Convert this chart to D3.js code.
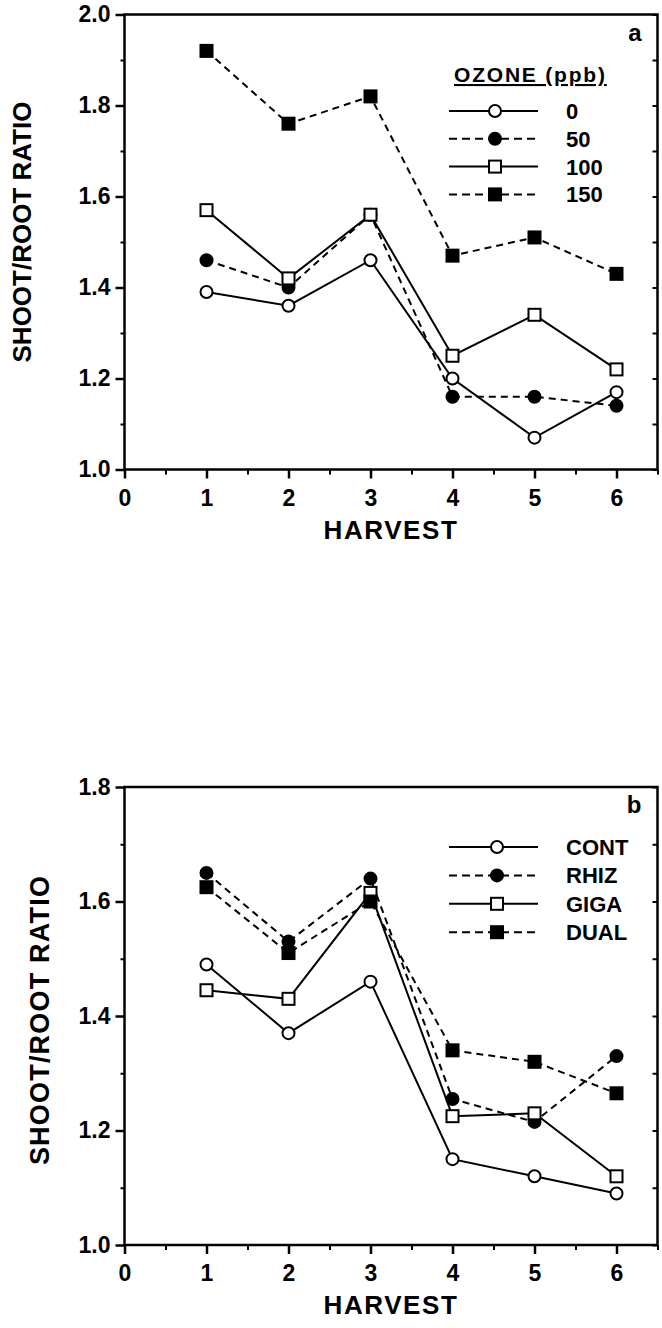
<!DOCTYPE html>
<html>
<head>
<meta charset="utf-8">
<script src="https://cdn.jsdelivr.net/npm/d3@7"></script>
<style>
  html, body { margin: 0; padding: 0; background: #fff; }
  svg { display: block; }
  text { font-family: "Liberation Sans", Arial, Helvetica, sans-serif; font-weight: bold; fill: #000; }
</style>
</head>
<body>
<div id="chart"></div>
<script>
// ============================================================
// Data
// ============================================================
const harvests = [1, 2, 3, 4, 5, 6];
const xTicks = [0, 1, 2, 3, 4, 5, 6];

// panel a : ozone (ppb)
const ozoneLabels = ['0', '50', '100', '150'];
const ozone0   = [1.39, 1.36, 1.46, 1.20, 1.07, 1.17];
const ozone50  = [1.46, 1.40, 1.56, 1.16, 1.16, 1.14];
const ozone100 = [1.57, 1.42, 1.56, 1.25, 1.34, 1.22];
const ozone150 = [1.92, 1.76, 1.82, 1.47, 1.51, 1.43];
const yTicksA = [1.0, 1.2, 1.4, 1.6, 1.8, 2.0];

// panel b : inoculation
const inocLabels = ['CONT', 'RHIZ', 'GIGA', 'DUAL'];
const cont = [1.49, 1.37, 1.46, 1.15, 1.12, 1.09];
const rhiz = [1.65, 1.53, 1.64, 1.255, 1.215, 1.33];
const giga = [1.445, 1.43, 1.615, 1.225, 1.23, 1.12];
const dual = [1.625, 1.51, 1.60, 1.34, 1.32, 1.265];
const yTicksB = [1.0, 1.2, 1.4, 1.6, 1.8];

// marker / line style per series position
const STYLES = [
    { shape: 'circle', fill: '#fff', dash: null },
    { shape: 'circle', fill: '#000', dash: '7,5' },
    { shape: 'square', fill: '#fff', dash: null },
    { shape: 'square', fill: '#000', dash: '7,5' }
];

const W = 662, H = 1328;
const svg = d3.select('#chart').append('svg')
    .attr('width', W)
    .attr('height', H);

// ============================================================
// Helpers
// ============================================================
function drawMarker(g, shape, fill, cx, cy) {
    if (shape === 'circle') {
        g.append('circle')
            .attr('cx', cx).attr('cy', cy).attr('r', 6)
            .attr('fill', fill).attr('stroke', '#000').attr('stroke-width', 2);
    } else {
        g.append('rect')
            .attr('x', cx - 6).attr('y', cy - 6)
            .attr('width', 12).attr('height', 12)
            .attr('fill', fill).attr('stroke', '#000').attr('stroke-width', 2);
    }
}

function minorSteps(lo, hi, step) {
    const out = [];
    for (let i = 0; lo + i * step <= hi + 1e-9; i++) out.push(+(lo + i * step).toFixed(2));
    return out;
}

function drawPanel(p) {
    const x = d3.scaleLinear().domain([0, 6.5]).range([p.left, p.right]);
    const y = d3.scaleLinear().domain(p.yDomain).range([p.bottom, p.top]);
    const g = svg.append('g');

    // minor x ticks (halves)
    g.append('g')
        .attr('transform', `translate(0,${p.bottom})`)
        .call(d3.axisBottom(x).tickValues(minorSteps(0.5, 6.5, 1)).tickSize(5).tickFormat('').tickSizeOuter(0))
        .call(s => s.select('.domain').remove())
        .call(s => s.selectAll('line').attr('stroke-width', 2));

    // major x ticks
    const xa = g.append('g')
        .attr('transform', `translate(0,${p.bottom})`)
        .call(d3.axisBottom(x).tickValues(xTicks).tickSize(9).tickPadding(11).tickFormat(d3.format('d')).tickSizeOuter(0));
    xa.select('.domain').remove();
    xa.selectAll('line').attr('stroke-width', 2.5);
    xa.selectAll('text').attr('font-size', 23).attr('font-family', null);

    // minor y ticks
    g.append('g')
        .attr('transform', `translate(${p.left},0)`)
        .call(d3.axisLeft(y).tickValues(minorSteps(p.yDomain[0] + 0.1, p.yDomain[1], 0.2)).tickSize(4).tickFormat('').tickSizeOuter(0))
        .call(s => s.select('.domain').remove())
        .call(s => s.selectAll('line').attr('stroke-width', 2));

    // major y ticks
    const ya = g.append('g')
        .attr('transform', `translate(${p.left},0)`)
        .call(d3.axisLeft(y).tickValues(p.yTicks).tickSize(9).tickPadding(5).tickFormat(d3.format('.1f')).tickSizeOuter(0));
    ya.select('.domain').remove();
    ya.selectAll('line').attr('stroke-width', 2.5);
    ya.selectAll('text').attr('font-size', 23).attr('font-family', null);

    // right side inner ticks
    g.append('g')
        .attr('transform', `translate(${p.right},0)`)
        .call(d3.axisRight(y).tickValues(minorSteps(p.yDomain[0], p.yDomain[1], 0.1)).tickSize(-5).tickFormat('').tickSizeOuter(0))
        .call(s => s.select('.domain').remove())
        .call(s => s.selectAll('line').attr('stroke-width', 2));

    // frame
    g.append('rect')
        .attr('x', p.left).attr('y', p.top)
        .attr('width', p.right - p.left).attr('height', p.bottom - p.top)
        .attr('fill', 'none').attr('stroke', '#000').attr('stroke-width', 2.5);

    // series
    const line = d3.line().x((d, i) => x(harvests[i])).y(d => y(d));
    p.series.forEach((vals, k) => {
        const st = STYLES[k];
        g.append('path')
            .datum(vals)
            .attr('d', line)
            .attr('fill', 'none')
            .attr('stroke', '#000')
            .attr('stroke-width', 2)
            .attr('stroke-dasharray', st.dash);
    });
    p.series.forEach((vals, k) => {
        const st = STYLES[k];
        vals.forEach((v, i) => drawMarker(g, st.shape, st.fill, x(harvests[i]), y(v)));
    });

    // panel letter
    g.append('text')
        .attr('x', p.right - 16).attr('y', p.top + 26)
        .attr('text-anchor', 'end')
        .attr('font-size', 24)
        .text(p.letter);

    // axis titles
    g.append('text')
        .attr('x', (p.left + p.right) / 2)
        .attr('y', p.bottom + 69)
        .attr('text-anchor', 'middle')
        .attr('font-size', 26)
        .attr('letter-spacing', 1.6)
        .text('HARVEST');

    g.append('text')
        .attr('transform', `translate(${p.yLabelX},${p.yLabelY}) rotate(-90)`)
        .attr('text-anchor', 'middle')
        .attr('dy', '0.36em')
        .attr('font-size', p.yLabelSize)
        .attr('letter-spacing', p.yLabelSpacing)
        .text('SHOOT/ROOT RATIO');

    // legend
    const lg = g.append('g');
    if (p.legendTitle) {
        lg.append('text')
            .attr('x', 454).attr('y', p.legendTitleY)
            .attr('font-size', 21)
            .attr('letter-spacing', 1.8)
            .attr('text-decoration', 'underline')
            .text(p.legendTitle);
    }
    p.labels.forEach((lab, k) => {
        const st = STYLES[k];
        const ly = p.legendY0 + k * p.legendStep;
        lg.append('line')
            .attr('x1', p.legendX1).attr('x2', p.legendX2)
            .attr('y1', ly).attr('y2', ly)
            .attr('stroke', '#000').attr('stroke-width', 2)
            .attr('stroke-dasharray', st.dash ? '8,5' : null);
        drawMarker(lg, st.shape, st.fill, p.legendMark, ly);
        lg.append('text')
            .attr('x', 566).attr('y', ly + 8)
            .attr('font-size', p.legendSize)
            .text(lab);
    });
}

// ============================================================
// Panels
// ============================================================
drawPanel({
    letter: 'a',
    left: 124.5, right: 657.5, top: 14.5, bottom: 469.5,
    yDomain: [1.0, 2.0], yTicks: yTicksA,
    series: [ozone0, ozone50, ozone100, ozone150],
    labels: ozoneLabels,
    legendTitle: 'OZONE (ppb)', legendTitleY: 82,
    legendY0: 111, legendStep: 27.8,
    legendX1: 449, legendX2: 538, legendMark: 495, legendSize: 22,
    yLabelX: 22, yLabelY: 232, yLabelSize: 26, yLabelSpacing: 0
});

drawPanel({
    letter: 'b',
    left: 124.5, right: 657.5, top: 787, bottom: 1245,
    yDomain: [1.0, 1.8], yTicks: yTicksB,
    series: [cont, rhiz, giga, dual],
    labels: inocLabels,
    legendTitle: null,
    legendY0: 847, legendStep: 28.4,
    legendX1: 449, legendX2: 538, legendMark: 497, legendSize: 22,
    yLabelX: 39, yLabelY: 1020, yLabelSize: 27, yLabelSpacing: 1.2
});
</script>
</body>
</html>
